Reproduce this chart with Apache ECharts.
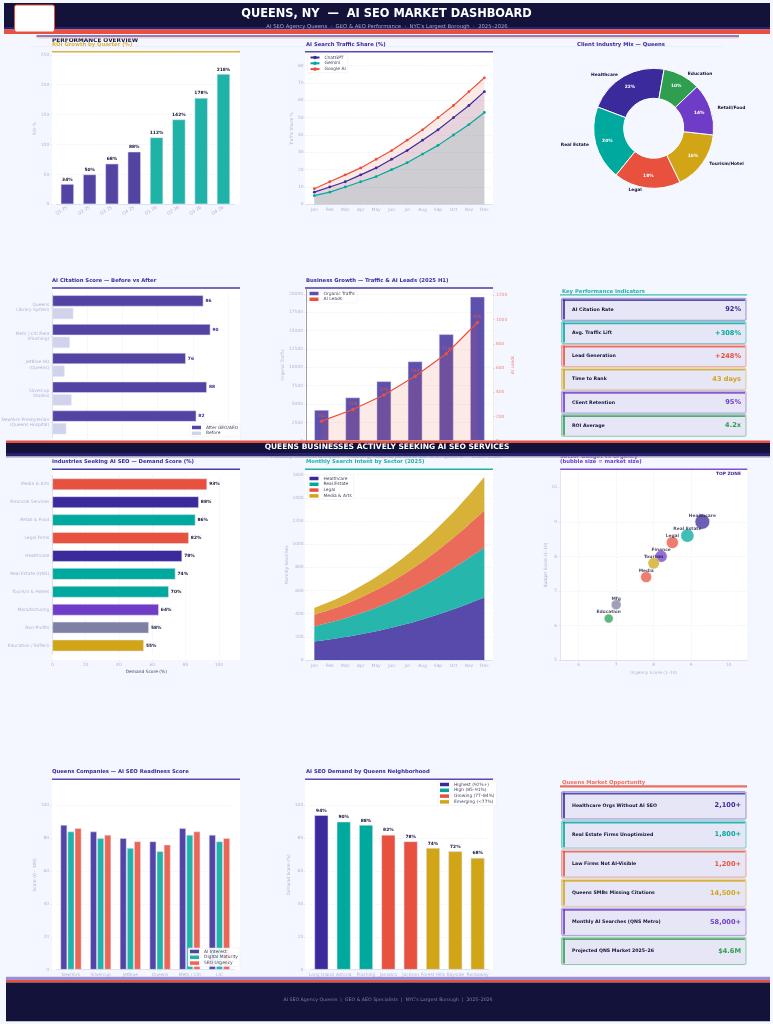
<!DOCTYPE html>
<html>
<head>
<meta charset="utf-8">
<title>Queens AI SEO Dashboard</title>
<script src="https://cdn.jsdelivr.net/npm/echarts@6/dist/echarts.min.js"></script>
<style>
  html, body { margin: 0; padding: 0; background: #f4f7ff; }
  #chart { width: 773px; height: 1024px; }
</style>
</head>
<body>
<div id="chart"></div>
<script>
// --- data ---
const quarters = ['Q1 25', 'Q2 25', 'Q3 25', 'Q4 25', 'Q1 26', 'Q2 26', 'Q3 26', 'Q4 26'];
const roiValues = [34, 50, 68, 88, 112, 142, 178, 218];

const months = ['Jan', 'Feb', 'Mar', 'Apr', 'May', 'Jun', 'Jul', 'Aug', 'Sep', 'Oct', 'Nov', 'Dec'];
const chatgptShare = [7, 10, 13, 17, 21, 26, 31, 37, 43, 50, 57, 65];
const geminiShare = [5, 7, 10, 13, 16, 20, 24, 29, 34, 40, 46, 53];
const googleShare = [9, 13, 17, 21, 26, 31, 37, 43, 50, 57, 65, 73];

const mixNames = ['Healthcare', 'Real Estate', 'Legal', 'Tourism/Hotel', 'Retail/Food', 'Education'];
const mixValues = [22, 20, 18, 16, 14, 10];

const citationOrgs = ['Queens\nLibrary System', 'Mets / Citi Field\n(Flushing)', 'JetBlue HQ\n(Queens)', 'Silvercup\nStudios', 'NewYork-Presbyterian\n(Queens Hospital)'];
const citationAfter = [86, 90, 76, 88, 82];
const citationBefore = [12, 10, 7, 11, 8];

const growthMonths = ['Jan', 'Feb', 'Mar', 'Apr', 'May', 'Jun'];
const organicTraffic = [4200, 5900, 8100, 10800, 14500, 19600];
const aiLeads = [162, 258, 378, 533, 718, 976];

const kpiNames = ['AI Citation Rate', 'Avg. Traffic Lift', 'Lead Generation', 'Time to Rank', 'Client Retention', 'ROI Average'];
const kpiValues = ['92%', '+308%', '+248%', '43 days', '95%', '4.2x'];

const industries = ['Media & Arts', 'Financial Services', 'Retail & Food', 'Legal Firms', 'Healthcare', 'Real Estate (QNS)', 'Tourism & Hotels', 'Manufacturing', 'Non-Profits', 'Education / EdTech'];
const demandScores = [93, 88, 86, 82, 78, 74, 70, 64, 58, 55];

const intentHealthcare = [160, 178, 198, 222, 248, 278, 312, 350, 392, 438, 488, 540];
const intentRealEstate = [130, 145, 162, 182, 204, 228, 256, 286, 320, 356, 392, 430];
const intentLegal = [100, 110, 122, 136, 152, 170, 190, 212, 236, 262, 290, 320];
const intentMedia = [60, 70, 82, 96, 112, 130, 150, 172, 196, 222, 254, 290];

const sectorNames = ['Healthcare', 'Real Estate', 'Legal', 'Finance', 'Tourism', 'Media', 'Mfg', 'Education'];
const sectorUrgency = [9.3, 8.9, 8.5, 8.2, 8.0, 7.8, 7.0, 6.8];
const sectorBudget = [9.0, 8.6, 8.4, 8.0, 7.8, 7.4, 6.6, 6.2];
const sectorMarket = [216, 177, 144, 144, 132, 121, 100, 81];

const companies = ['NewYork\nPresbyterian', 'Silvercup\nStudios', 'JetBlue\nAirways', 'Queens\nLibrary', 'Mets / Citi\nField', 'LIC\nTech Hub'];
const aiInterest = [88, 84, 80, 78, 86, 82];
const digitalMaturity = [84, 80, 74, 72, 82, 78];
const seoUrgency = [86, 82, 78, 76, 84, 80];

const neighborhoods = ['Long Island\nCity', 'Astoria', 'Flushing', 'Jamaica', 'Jackson\nHeights', 'Forest Hills', 'Bayside', 'Rockaway'];
const neighborhoodDemand = [94, 90, 88, 82, 78, 74, 72, 68];
const neighborhoodTier = [0, 1, 1, 2, 2, 3, 3, 3];
const tierNames = ['Highest (92%+)', 'High (85–91%)', 'Growing (77–84%)', 'Emerging (<77%)'];

const oppNames = ['Healthcare Orgs Without AI SEO', 'Real Estate Firms Unoptimized', 'Law Firms Not AI-Visible', 'Queens SMBs Missing Citations', 'Monthly AI Searches (QNS Metro)', 'Projected QNS Market 2025–26'];
const oppValues = ['2,100+', '1,800+', '1,200+', '14,500+', '58,000+', '$4.6M'];

// --- colours ---
const NAVY = '#3b2a9b', TEAL = '#00a99d', RED = '#e8513d', GOLD = '#d1a515', PURPLE = '#6f3cc8', GREEN = '#2f9e4f';
const INK = '#12123a', SLATE = '#8080a4', MUTED = '#b0b4d2', FONT = 'DejaVu Sans';
const SMALL = 4.4, TITLE = 'bold 5.3px';
const cardColors = [NAVY, TEAL, RED, GOLD, PURPLE, GREEN];
const demandColors = [RED, NAVY, TEAL, RED, NAVY, TEAL, TEAL, PURPLE, SLATE, GOLD];
const sectorColors = [NAVY, TEAL, RED, PURPLE, GOLD, RED, SLATE, GREEN];
const tierColors = [NAVY, TEAL, RED, GOLD];

// --- grids ---
const grids = [
  { left: 56.2, top: 53, width: 178.4, height: 151.3 },    // 0 roi
  { left: 306.6, top: 53, width: 185.5, height: 151.3 },   // 1 traffic share
  { left: 52.3, top: 292.8, width: 188, height: 144 },     // 2 citations
  { left: 306, top: 289, width: 187, height: 151.8 },      // 3 growth
  { left: 52.3, top: 475.3, width: 188, height: 179.2 },   // 4 demand
  { left: 306.6, top: 470, width: 185.5, height: 190 },    // 5 intent
  { left: 560, top: 470, width: 187.3, height: 190 },      // 6 bubble
  { left: 56.1, top: 780, width: 178.2, height: 189.7 },   // 7 readiness
  { left: 310.2, top: 780, width: 178.6, height: 189.7 }   // 8 neighborhood
];

const splitLine = { show: true, showMaxLine: false, lineStyle: { type: 'dashed', color: '#eceef9', width: 0.6 } };
const axisTick = { show: true, length: 1.5, lineStyle: { color: '#d4d7ec', width: 0.5 } };
const axisLine = { show: true, lineStyle: { color: '#d4d7ec', width: 0.7 } };
const nameStyle = { color: MUTED, fontSize: SMALL, fontFamily: FONT };

function valueAxis(gridIndex, max, interval, extra) {
  return Object.assign({
    type: 'value', gridIndex, min: 0, max, interval,
    axisLine: { show: false }, axisTick, splitLine,
    axisLabel: { color: MUTED, fontSize: SMALL, fontFamily: FONT, margin: 3, showMaxLabel: false, formatter: v => String(v) },
    nameTextStyle: nameStyle, nameLocation: 'middle'
  }, extra);
}
function catAxis(gridIndex, data, extra) {
  return Object.assign({
    type: 'category', gridIndex, data,
    axisLine, axisTick: { show: true, length: 1.5, alignWithLabel: true, lineStyle: { color: '#d4d7ec', width: 0.5 } },
    splitLine: { show: false },
    axisLabel: { color: MUTED, fontSize: SMALL, fontFamily: FONT, margin: 3, interval: 0, lineHeight: 5.2 }
  }, extra);
}

const xAxes = [
  catAxis(0, quarters, { axisLabel: { color: MUTED, fontSize: SMALL, fontFamily: FONT, margin: 3, rotate: 30, interval: 0 } }),
  catAxis(1, months),
  valueAxis(2, 107, 20, { splitLine: Object.assign({}, splitLine), axisLabel: { show: false } }),
  catAxis(3, growthMonths),
  valueAxis(4, 112.9, 20, { offset: 5.5, name: 'Demand Score (%)', nameGap: 10, nameTextStyle: { color: '#444466', fontSize: SMALL, fontFamily: FONT } }),
  catAxis(5, months),
  {
    type: 'value', gridIndex: 6, min: 5.5, max: 10.5, name: 'Urgency Score (1–10)', nameLocation: 'middle', nameGap: 11, nameTextStyle: nameStyle,
    axisLine, axisTick: { show: true, length: 1.5, customValues: [6, 7, 8, 9, 10], lineStyle: { color: '#d4d7ec', width: 0.5 } },
    axisLabel: { color: MUTED, fontSize: SMALL, fontFamily: FONT, margin: 3, customValues: [6, 7, 8, 9, 10] },
    splitLine
  },
  catAxis(7, companies),
  catAxis(8, neighborhoods)
];

const yAxes = [
  valueAxis(0, 253, 50, { offset: 4, name: 'ROI %', nameGap: 13 }),
  valueAxis(1, 87.3, 10, { name: 'Traffic Share %', nameGap: 11 }),
  catAxis(2, citationOrgs, { inverse: true, axisLine }),
  valueAxis(3, 20650, 2500, {
    name: 'Organic Traffic', nameGap: 17, axisLine: { show: true, lineStyle: { color: '#9c9cb4', width: 1 } }
  }),
  catAxis(4, industries, { inverse: true, axisLine }),
  valueAxis(5, 1640, 200, { name: 'Monthly Searches', nameGap: 14 }),
  {
    type: 'value', gridIndex: 6, min: 5, max: 10.5, name: 'Budget Score (1–10)', nameLocation: 'middle', nameGap: 11, nameTextStyle: nameStyle,
    axisLine, axisTick: { show: true, length: 1.5, customValues: [5, 6, 7, 8, 9, 10], lineStyle: { color: '#d4d7ec', width: 0.5 } },
    axisLabel: { color: MUTED, fontSize: SMALL, fontFamily: FONT, margin: 3, customValues: [5, 6, 7, 8, 9, 10] },
    splitLine
  },
  valueAxis(7, 115.3, 20, { offset: 4, name: 'Score (0 – 100)', nameGap: 12 }),
  valueAxis(8, 115.3, 20, { offset: 4, name: 'Demand Score (%)', nameGap: 12 }),
  // right axis of the growth chart
  {
    type: 'value', gridIndex: 3, position: 'right', min: 0, max: 1252, interval: 200,
    name: 'AI Leads', nameLocation: 'middle', nameGap: 12, nameTextStyle: { color: '#ee8a7c', fontSize: SMALL, fontFamily: FONT },
    axisLine: { show: true, lineStyle: { color: '#e8e8f4', width: 0.7 } },
    axisTick: { show: true, length: 1.5, lineStyle: { color: '#f0a296', width: 0.5 } },
    axisLabel: { color: '#ee8a7c', fontSize: SMALL, fontFamily: FONT, margin: 3, showMaxLabel: false, formatter: v => String(v) },
    splitLine: { show: false }
  }
];

const barEdge = { borderColor: 'rgba(225,225,245,0.8)', borderWidth: 0.7 };
const valueLabel = { show: true, position: 'top', distance: 2.5, formatter: '{c}%', fontSize: SMALL, fontWeight: 'bold', color: INK, fontFamily: FONT };

function lineSeries(name, data, color) {
  return {
    name, type: 'line', xAxisIndex: 1, yAxisIndex: 1, data, color,
    symbol: 'circle', symbolSize: 2.8, lineStyle: { width: 1.2, color }, itemStyle: { color },
    areaStyle: { color, opacity: 0.12 }
  };
}
function intentSeries(name, data, color) {
  return {
    name, type: 'line', xAxisIndex: 5, yAxisIndex: 5, data, stack: 'intent', smooth: 0.3, showSymbol: false, color,
    lineStyle: { width: 0 }, itemStyle: { color }, areaStyle: { color, opacity: 0.85 }
  };
}
function readinessSeries(name, data, color) {
  return {
    name, type: 'bar', xAxisIndex: 7, yAxisIndex: 7, data, barWidth: 6.8, barGap: '5%', color,
    itemStyle: Object.assign({ color, opacity: 0.88 }, barEdge)
  };
}

const series = [
  {
    type: 'bar', name: 'ROI', xAxisIndex: 0, yAxisIndex: 0, barWidth: 13.3, label: valueLabel,
    data: roiValues.map((v, i) => ({ value: v, itemStyle: Object.assign({ color: i < 4 ? '#5343a3' : '#1fb3a8' }, barEdge) }))
  },
  lineSeries('ChatGPT', chatgptShare, NAVY),
  lineSeries('Gemini', geminiShare, TEAL),
  lineSeries('Google AI', googleShare, RED),
  {
    type: 'pie', name: 'Mix', center: [653.7, 128.3], radius: [30, 60], startAngle: 80, clockwise: false, silent: true,
    data: mixNames.map((n, i) => ({ name: n, value: mixValues[i], itemStyle: { color: [NAVY, TEAL, RED, GOLD, PURPLE, GREEN][i] } })),
    itemStyle: { borderColor: '#fff', borderWidth: 1 },
    label: { show: true, position: 'outside', formatter: '{b}', fontSize: SMALL, fontWeight: 'bold', color: INK, fontFamily: FONT },
    labelLine: { show: false, length: 2, length2: 0 }
  },
  {
    type: 'pie', name: 'MixPct', center: [653.7, 128.3], radius: [30, 60], startAngle: 80, clockwise: false, silent: true,
    data: mixNames.map((n, i) => ({ name: n, value: mixValues[i], itemStyle: { color: 'rgba(0,0,0,0)' } })),
    label: { show: true, position: 'inside', formatter: '{c}%', fontSize: SMALL, fontWeight: 'bold', color: '#fff', fontFamily: FONT },
    labelLine: { show: false }
  },
  {
    name: 'After GEO/AEO', type: 'bar', xAxisIndex: 2, yAxisIndex: 2, data: citationAfter, barWidth: 11.3, barGap: '12%', color: '#5343a3',
    itemStyle: Object.assign({ color: '#5343a3' }, barEdge),
    label: { show: true, position: 'right', distance: 2, fontSize: SMALL, fontWeight: 'bold', color: NAVY, fontFamily: FONT }
  },
  {
    name: 'Before', type: 'bar', xAxisIndex: 2, yAxisIndex: 2, data: citationBefore, barWidth: 11.3, color: '#d0d3ea',
    itemStyle: Object.assign({ color: '#d0d3ea' }, barEdge)
  },
  {
    name: 'Organic Traffic', type: 'bar', xAxisIndex: 3, yAxisIndex: 3, data: organicTraffic, barWidth: 14.7, color: NAVY,
    itemStyle: Object.assign({ color: NAVY, opacity: 0.82 }, barEdge)
  },
  {
    name: 'AI Leads', type: 'line', xAxisIndex: 3, yAxisIndex: 9, data: aiLeads, color: RED,
    symbol: 'circle', symbolSize: 3.5, lineStyle: { width: 1.2, color: RED }, itemStyle: { color: RED },
    areaStyle: { color: RED, opacity: 0.12 },
    label: { show: true, position: 'top', distance: 1.5, fontSize: SMALL, color: RED, fontFamily: FONT }
  },
  {
    type: 'bar', name: 'Demand', xAxisIndex: 4, yAxisIndex: 4, barWidth: 11.7,
    data: demandScores.map((v, i) => ({ value: v, itemStyle: Object.assign({ color: demandColors[i] }, barEdge) })),
    label: { show: true, position: 'right', distance: 2, formatter: '{c}%', fontSize: SMALL, fontWeight: 'bold', color: INK, fontFamily: FONT }
  },
  intentSeries('Healthcare', intentHealthcare, NAVY),
  intentSeries('Real Estate', intentRealEstate, TEAL),
  intentSeries('Legal', intentLegal, RED),
  intentSeries('Media & Arts', intentMedia, GOLD),
  {
    type: 'scatter', name: 'Sectors', xAxisIndex: 6, yAxisIndex: 6,
    symbolSize: v => Math.sqrt(v[2]),
    data: sectorNames.map((n, i) => ({
      name: n, value: [sectorUrgency[i], sectorBudget[i], sectorMarket[i]],
      itemStyle: { color: sectorColors[i], opacity: 0.75, borderColor: '#fff', borderWidth: 0.6 }
    })),
    // labels sit a fixed distance above the bubble centre, whatever its size
    label: { show: true, position: 'inside', offset: [0, -6.3], formatter: '{b}', fontSize: SMALL, fontWeight: 'bold', color: INK, fontFamily: FONT }
  },
  readinessSeries('AI Interest', aiInterest, NAVY),
  readinessSeries('Digital Maturity', digitalMaturity, TEAL),
  readinessSeries('SEO Urgency', seoUrgency, RED)
].concat(tierNames.map((name, t) => ({
  name, type: 'bar', xAxisIndex: 8, yAxisIndex: 8, stack: 'tier', barWidth: 14, color: tierColors[t],
  data: neighborhoodDemand.map((v, i) => (neighborhoodTier[i] === t ? v : null)),
  itemStyle: Object.assign({ color: tierColors[t] }, barEdge),
  label: valueLabel
})));

function legendBox(left, top, names, extra) {
  return Object.assign({
    left, top, orient: 'vertical', data: names, selectedMode: false,
    itemWidth: 9, itemHeight: 3.5, itemGap: 1.8, padding: [1.5, 2],
    backgroundColor: 'rgba(255,255,255,0.9)', borderColor: '#e8eaf6', borderWidth: 0.5, borderRadius: 1,
    itemStyle: { borderWidth: 0 },
    textStyle: { fontSize: SMALL, color: '#444460', fontFamily: FONT }
  }, extra);
}
const legends = [
  legendBox(307.5, 54, ['ChatGPT', 'Gemini', 'Google AI'], { itemHeight: 4.5 }),
  legendBox(190, 424, ['After GEO/AEO', 'Before'], { icon: 'rect' }),
  legendBox(307.5, 290, ['Organic Traffic', 'AI Leads'], { icon: 'rect' }),
  legendBox(307.5, 475, ['Healthcare', 'Real Estate', 'Legal', 'Media & Arts'], { icon: 'rect' }),
  legendBox(188, 948, ['AI Interest', 'Digital Maturity', 'SEO Urgency'], { icon: 'rect' }),
  legendBox(438, 781, tierNames, { icon: 'rect' })
];

// --- page furniture: headers, panels, cards ---
function rect(x, y, w, h, fill, z, extra) {
  return { type: 'rect', silent: true, z, shape: Object.assign({ x, y, width: w, height: h }, extra && extra.shape), style: Object.assign({ fill }, extra && extra.style) };
}
function text(x, y, str, font, fill, align, z) {
  return {
    type: 'text', silent: true, z,
    style: { x, y, text: str, font: font + ' "DejaVu Sans"', fill, align, textAlign: align, verticalAlign: 'middle', textVerticalAlign: 'middle' }
  };
}
function panel(x, y, w, h, color) {
  return [rect(x, y, w, h, '#ffffff', -10), rect(x, y - 1, w, 1.5, color, -9)];
}
function cards(top, height, pitch, names, values) {
  const out = [];
  names.forEach((name, i) => {
    const y = top + i * pitch;
    const c = cardColors[i];
    out.push(rect(561.5, y, 184.5, height, '#e6e6f6', 5, { shape: { r: 1.2 }, style: { stroke: c + '88', lineWidth: 0.9 } }));
    out.push(rect(562.7, y + 1, 182.3, 1.7, c + 'cc', 6));
    out.push(rect(562.7, y + 1, 2.3, height - 2, c + 'cc', 6));
    out.push(text(572, y + height / 2 + 0.3, name, 'bold 4.7px', INK, 'left', 7));
    out.push(text(741, y + height / 2 + 0.3, values[i], 'bold 6.6px', c, 'right', 7));
  });
  return out;
}

const furniture = [].concat(
  // header
  rect(4, 3, 766, 26, INK, 50),
  rect(4, 27, 766, 2.5, '#2a2070', 51),
  rect(4, 29.5, 766, 4.5, RED, 51),
  rect(14.5, 5, 40, 27, '#ffffff', 52, { shape: { r: 2 }, style: { stroke: RED, lineWidth: 1 } }),
  text(386.5, 14, 'QUEENS, NY  —  AI SEO MARKET DASHBOARD', 'bold 11.4px', '#ffffff', 'center', 53),
  text(387, 26.5, "AI SEO Agency Queens  ·  GEO & AEO Performance  ·  NYC's Largest Borough  ·  2025–2026", '5.3px', '#a4a6c8', 'center', 53),
  rect(36.5, 35, 702.5, 2, '#8a80c0', 50),
  rect(36.5, 37, 702.5, 1.4, '#f6cdc8', 50),
  rect(30, 46.2, 693, 0.8, '#e8eaf8', -11),
  text(52, 44.5, 'ROI Growth by Quarter (%)', TITLE, '#dab33f', 'left', 7),
  text(52, 40.5, 'PERFORMANCE OVERVIEW', 'bold 5.8px', INK, 'left', 8),
  text(306, 44.5, 'AI Search Traffic Share (%)', TITLE, NAVY, 'left', 7),
  text(577, 44.5, 'Client Industry Mix — Queens', TITLE, NAVY, 'left', 7),
  panel(52, 52, 188, 152.3, '#dab33f'),
  panel(305, 52, 188, 152.3, '#5b4bb0'),

  // row 2
  text(52, 281, 'AI Citation Score — Before vs After', TITLE, NAVY, 'left', 7),
  text(306, 281, 'Business Growth — Traffic & AI Leads (2025 H1)', TITLE, NAVY, 'left', 7),
  text(562, 292, 'Key Performance Indicators', TITLE, '#1fb3a8', 'left', 7),
  panel(52, 288.3, 188, 152, '#4a3aa8'),
  panel(305, 288.3, 188, 152, '#4a3aa8'),
  rect(560, 294.2, 187, 1.3, '#3dbdb2', 6),
  cards(298.3, 22, 23.2, kpiNames, kpiValues),

  // banner
  rect(6, 440.5, 764, 2.5, RED, 50),
  rect(6, 443, 764, 10, INK, 50),
  rect(6, 453, 764, 3.2, '#2a2070', 50),
  rect(6, 456.2, 764, 1.2, '#9a9cb8', 50),
  text(387, 447.5, 'QUEENS BUSINESSES ACTIVELY SEEKING AI SEO SERVICES', 'bold 7.5px', '#ffffff', 'center', 53),
  text(386, 457, 'Industry demand analysis  ·  Flushing, Astoria, Jamaica, LIC & all Queens  ·  2025–2026', '5.3px', '#a4a6c8', 'center', 49),

  // row 3
  text(52, 462, 'Industries Seeking AI SEO — Demand Score (%)', TITLE, NAVY, 'left', 7),
  text(306, 462, 'Monthly Search Intent by Sector (2025)', TITLE, '#1fb3a8', 'left', 7),
  text(560, 456.5, 'Sector Budget vs Urgency', TITLE, PURPLE, 'left', 7),
  text(560, 462, '(bubble size = market size)', TITLE, PURPLE, 'left', 7),
  text(741, 474.3, 'TOP ZONE', 'bold 4.4px', NAVY, 'right', 7),
  panel(52, 469.5, 188, 190.5, '#4a3aa8'),
  panel(305, 469.5, 188, 190.5, '#1fb3a8'),
  panel(560, 469.5, 187.3, 190.5, '#7e4fd0'),

  // row 4
  text(52, 772, 'Queens Companies — AI SEO Readiness Score', TITLE, NAVY, 'left', 7),
  text(306, 772, 'AI SEO Demand by Queens Neighborhood', TITLE, NAVY, 'left', 7),
  text(562, 783, 'Queens Market Opportunity', TITLE, '#ee6f5e', 'left', 7),
  panel(52, 779.5, 188, 190.2, '#5b4bb0'),
  panel(305, 779.5, 188, 190.2, '#5b4bb0'),
  rect(560, 785.3, 187, 2.2, '#ee6f5e', 6),
  cards(791.7, 27.3, 29.1, oppNames, oppValues),

  // footer
  rect(6, 976.7, 764, 3.3, '#9a8fd0', 50),
  rect(6, 980, 764, 2.6, RED, 50),
  rect(6, 982.6, 764, 38.6, INK, 50),
  text(388, 1000, "AI SEO Agency Queens  |  GEO & AEO Specialists  |  NYC's Largest Borough  |  2025–2026", '4.7px', '#7c7ea4', 'center', 53)
);

const chart = echarts.init(document.getElementById('chart'), null, { renderer: 'canvas' });
chart.setOption({
  animation: false,
  backgroundColor: '#f4f7ff',
  textStyle: { fontFamily: FONT },
  // outerBoundsMode none: keep the grids exactly where they are put
  grid: grids.map(g => Object.assign({ containLabel: false, outerBoundsMode: 'none' }, g)),
  xAxis: xAxes,
  yAxis: yAxes,
  legend: legends,
  series,
  graphic: { elements: furniture }
});
</script>
</body>
</html>
